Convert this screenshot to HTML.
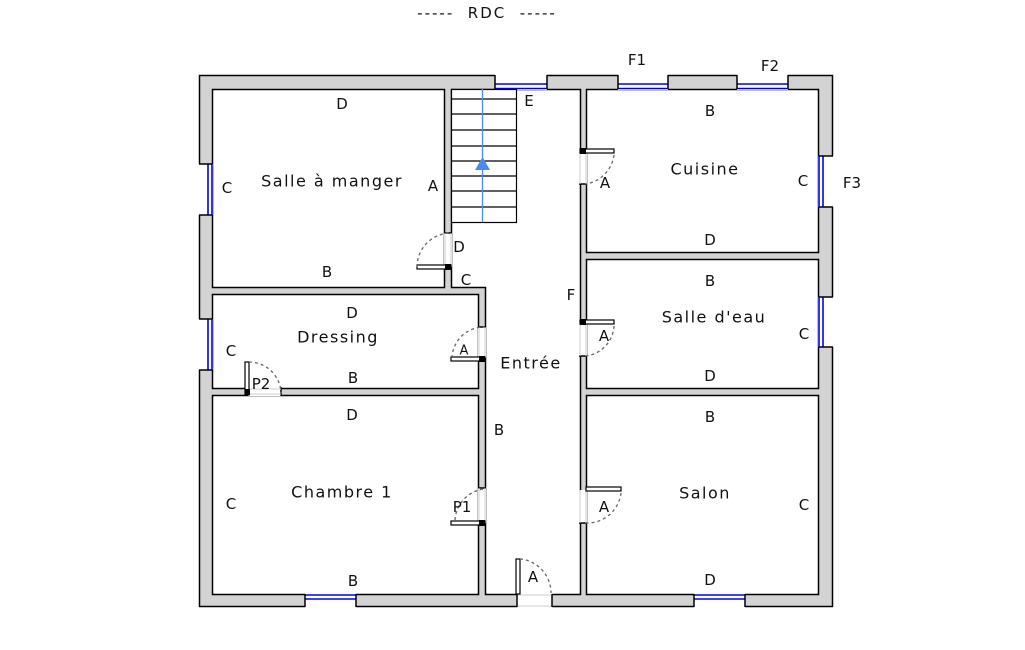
<!DOCTYPE html>
<html><head><meta charset="utf-8"><style>
html,body{margin:0;padding:0;background:#fff;width:1025px;height:650px;overflow:hidden}
svg{display:block}
text{font-family:"DejaVu Sans","Liberation Sans",sans-serif;font-size:15px;fill:#111;text-anchor:middle;dominant-baseline:central}
.r{font-size:16px;letter-spacing:1.5px}
</style></head><body>
<svg width="1025" height="650" viewBox="0 0 1025 650" xmlns="http://www.w3.org/2000/svg">
<rect x="199.5" y="75.5" width="633" height="531" fill="#d3d3d3" stroke="#000" stroke-width="1.5"/>
<g fill="#fff" stroke="#000" stroke-width="1.5">
<rect x="212.5" y="89.5" width="232" height="198"/>
<rect x="212.5" y="294.5" width="266" height="94"/>
<rect x="212.5" y="395.5" width="266" height="199"/>
<polygon points="451.5,89.5 580.5,89.5 580.5,594.5 485.5,594.5 485.5,287.5 451.5,287.5"/>
<rect x="586.5" y="89.5" width="232" height="163"/>
<rect x="586.5" y="259.5" width="232" height="129"/>
<rect x="586.5" y="395.5" width="232" height="199"/>
</g>
<g fill="#fff" stroke="none">
<rect x="495" y="74" width="52" height="16"/>
<rect x="618" y="74" width="50" height="16"/>
<rect x="737" y="74" width="51" height="16"/>
<rect x="818" y="156" width="16" height="51"/>
<rect x="818" y="297" width="16" height="50"/>
<rect x="198" y="164" width="15" height="51"/>
<rect x="198" y="319" width="15" height="51"/>
<rect x="305" y="593" width="51" height="15"/>
<rect x="694" y="593" width="51" height="15"/>
<rect x="517" y="593" width="35" height="15"/>
<rect x="444" y="233" width="8" height="34"/>
<rect x="478" y="327" width="8" height="31"/>
<rect x="478" y="488" width="8" height="35"/>
<rect x="579" y="153" width="8" height="31"/>
<rect x="579" y="324" width="8" height="32"/>
<rect x="579" y="490" width="8" height="33"/>
<rect x="248" y="387" width="33" height="9"/>
</g>
<g stroke="#0000e6" stroke-width="1.6">
<line x1="495" y1="84" x2="547" y2="84"/><line x1="495" y1="88.5" x2="547" y2="88.5"/>
<line x1="618" y1="84" x2="668" y2="84"/><line x1="618" y1="88.5" x2="668" y2="88.5"/>
<line x1="737" y1="84" x2="788" y2="84"/><line x1="737" y1="88.5" x2="788" y2="88.5"/>
<line x1="819" y1="156" x2="819" y2="207"/><line x1="823" y1="156" x2="823" y2="207"/>
<line x1="819" y1="297" x2="819" y2="347"/><line x1="823" y1="297" x2="823" y2="347"/>
<line x1="208" y1="164" x2="208" y2="215"/><line x1="212" y1="164" x2="212" y2="215"/>
<line x1="208" y1="319" x2="208" y2="370"/><line x1="212" y1="319" x2="212" y2="370"/>
<line x1="305" y1="595" x2="356" y2="595"/><line x1="305" y1="599" x2="356" y2="599"/>
<line x1="694" y1="595" x2="745" y2="595"/><line x1="694" y1="599" x2="745" y2="599"/>
</g>
<g stroke="#000" stroke-width="1.5" fill="none">
<line x1="495" y1="75" x2="495" y2="89"/><line x1="547" y1="75" x2="547" y2="89"/>
<line x1="618" y1="75" x2="618" y2="89"/><line x1="668" y1="75" x2="668" y2="89"/>
<line x1="737" y1="75" x2="737" y2="89"/><line x1="788" y1="75" x2="788" y2="89"/>
<line x1="819" y1="156" x2="833" y2="156"/><line x1="819" y1="207" x2="833" y2="207"/>
<line x1="819" y1="297" x2="833" y2="297"/><line x1="819" y1="347" x2="833" y2="347"/>
<line x1="199" y1="164" x2="212" y2="164"/><line x1="199" y1="215" x2="212" y2="215"/>
<line x1="199" y1="319" x2="212" y2="319"/><line x1="199" y1="370" x2="212" y2="370"/>
<line x1="305" y1="594" x2="305" y2="607"/><line x1="356" y1="594" x2="356" y2="607"/>
<line x1="694" y1="594" x2="694" y2="607"/><line x1="745" y1="594" x2="745" y2="607"/>
<line x1="517" y1="594" x2="517" y2="607"/><line x1="552" y1="594" x2="552" y2="607"/>
<line x1="444" y1="233" x2="452" y2="233"/>
<line x1="478" y1="327" x2="486" y2="327"/>
<line x1="478" y1="488" x2="486" y2="488"/>
<line x1="579" y1="184" x2="587" y2="184"/>
<line x1="579" y1="356" x2="587" y2="356"/>
<line x1="579" y1="523" x2="587" y2="523"/>
<line x1="281" y1="387" x2="281" y2="396"/>
</g>
<g stroke="#ccc" stroke-width="1">
<line x1="445" y1="233" x2="445" y2="267"/><line x1="451" y1="233" x2="451" y2="267"/>
<line x1="479" y1="327" x2="479" y2="358"/><line x1="485" y1="327" x2="485" y2="358"/>
<line x1="479" y1="488" x2="479" y2="523"/><line x1="485" y1="488" x2="485" y2="523"/>
<line x1="580" y1="153" x2="580" y2="184"/><line x1="586" y1="153" x2="586" y2="184"/>
<line x1="580" y1="324" x2="580" y2="356"/><line x1="586" y1="324" x2="586" y2="356"/>
<line x1="580" y1="490" x2="580" y2="523"/><line x1="586" y1="490" x2="586" y2="523"/>
<line x1="248" y1="389" x2="281" y2="389"/><line x1="248" y1="394" x2="281" y2="394"/>
<line x1="518" y1="595" x2="551" y2="595"/><line x1="518" y1="606" x2="551" y2="606"/>
</g>
<g fill="#fff" stroke="#000" stroke-width="1.2">
<rect x="417" y="265" width="34" height="4"/>
<rect x="451" y="357" width="34" height="4"/>
<rect x="451" y="521" width="34" height="4"/>
<rect x="580" y="149" width="34" height="4"/>
<rect x="580" y="320" width="34" height="4"/>
<rect x="586" y="487" width="35" height="4"/>
<rect x="245" y="362" width="4" height="33"/>
<rect x="516" y="559" width="4" height="35"/>
</g>
<g fill="#000">
<rect x="445" y="264" width="6" height="6"/>
<rect x="479" y="356" width="6" height="6"/>
<rect x="479" y="520" width="6" height="6"/>
<rect x="580" y="148" width="6" height="6"/>
<rect x="580" y="319" width="6" height="6"/>
<rect x="245" y="389" width="5" height="6"/>
</g>
<g fill="none" stroke="#666" stroke-width="1.3" stroke-dasharray="3,3">
<path d="M417,267 A34,34 0 0 1 451,233"/>
<path d="M452,358 A32,32 0 0 1 484,327"/>
<path d="M455,520 A33,33 0 0 1 484,489"/>
<path d="M614,155 A34,34 0 0 1 586,184"/>
<path d="M614,326 A32,32 0 0 1 586,356"/>
<path d="M621,493 A34,34 0 0 1 586,523"/>
<path d="M249,362 A32,32 0 0 1 281,393"/>
<path d="M520,559 A34,34 0 0 1 551,593"/>
</g>
<rect x="451.5" y="89.5" width="65" height="133" fill="#fff" stroke="#000" stroke-width="1.2"/>
<g stroke="#000" stroke-width="1.2">
<line x1="451" y1="99" x2="516" y2="99"/><line x1="451" y1="114" x2="516" y2="114"/>
<line x1="451" y1="130" x2="516" y2="130"/><line x1="451" y1="146" x2="516" y2="146"/>
<line x1="451" y1="161" x2="516" y2="161"/><line x1="451" y1="176" x2="516" y2="176"/>
<line x1="451" y1="191" x2="516" y2="191"/><line x1="451" y1="207" x2="516" y2="207"/>
</g>
<line x1="482.5" y1="89" x2="482.5" y2="222" stroke="#4a8af0" stroke-width="1.3"/>
<polygon points="482.5,157 475,170 490,170" fill="#4a8af0"/>
<text x="487" y="13" xml:space="preserve" style="font-size:15px;letter-spacing:2px">-----  RDC  -----</text>
<text x="342" y="104">D</text><text x="227" y="188">C</text>
<text x="332" y="181" class="r">Salle à manger</text>
<text x="433" y="186">A</text><text x="327" y="272">B</text>
<text x="459" y="247">D</text><text x="466" y="280">C</text><text x="529" y="101">E</text>
<text x="352" y="313">D</text><text x="338" y="337" class="r">Dressing</text>
<text x="231" y="351">C</text><text x="464" y="351" style="font-size:13px">A</text>
<text x="261" y="384">P2</text><text x="353" y="378">B</text>
<text x="531" y="363" class="r">Entrée</text>
<text x="499" y="430">B</text><text x="571" y="295">F</text>
<text x="352" y="415">D</text><text x="342" y="492" class="r">Chambre 1</text>
<text x="231" y="504">C</text><text x="462" y="507">P1</text><text x="353" y="581">B</text>
<text x="533" y="577">A</text>
<text x="710" y="111">B</text><text x="705" y="169" class="r">Cuisine</text>
<text x="605" y="183">A</text><text x="803" y="181">C</text><text x="710" y="240">D</text>
<text x="637" y="60">F1</text><text x="770" y="66">F2</text><text x="852" y="183">F3</text>
<text x="710" y="281">B</text><text x="714" y="317" class="r">Salle d'eau</text>
<text x="604" y="336">A</text><text x="804" y="334">C</text><text x="710" y="376">D</text>
<text x="710" y="417">B</text><text x="705" y="493" class="r">Salon</text>
<text x="604" y="507">A</text><text x="804" y="505">C</text><text x="710" y="580">D</text>
</svg>
</body></html>
